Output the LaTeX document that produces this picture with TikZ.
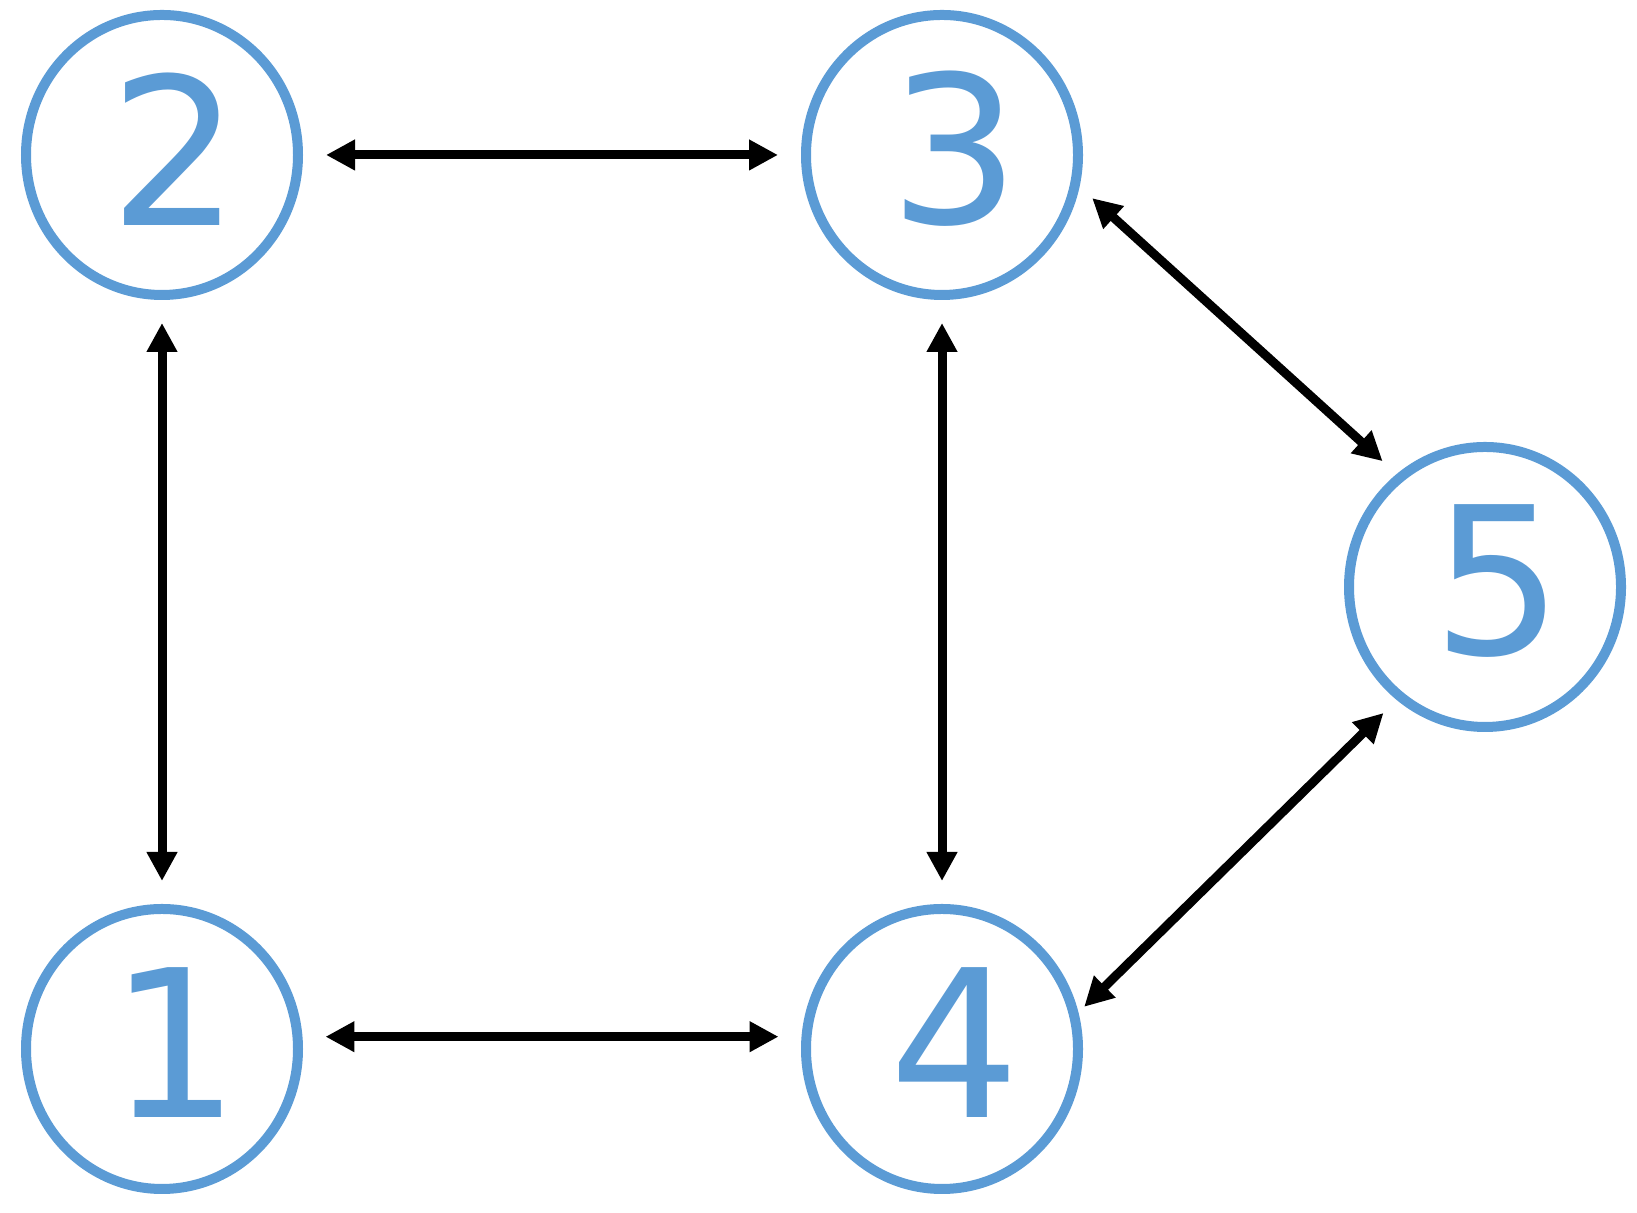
\documentclass[tikz,border=0pt]{standalone}
\usepackage{fontspec}
\setmainfont{DejaVu Sans}
\usepackage{xcolor}
\usetikzlibrary{shapes.geometric, arrows.meta, positioning, calc}

\definecolor{nodeblue}{HTML}{5B9BD5}

\begin{document}
\begin{tikzpicture}[>=Stealth,state/.style={draw=nodeblue,line width=1mm,ellipse,inner sep=0pt,minimum width=2.72cm,minimum height=2.8cm},num/.style={text=nodeblue,font=\fontsize{58.5}{60}\selectfont,xshift=1.3mm,yshift=0.6mm},link/.style={{Triangle[length=2.9mm,width=2.9mm]}-{Triangle[length=2.9mm,width=2.9mm]},line width=0.9mm,shorten <=2.3mm,shorten >=2.3mm}]
  \useasboundingbox (0,0) rectangle (16.37,12.13);
  \node[state,label={[num]center:2}] (n2) at (1.62,10.58) {};
  \node[state,right=4.98cm of n2,label={[num]center:3}] (n3) {};
  \node[state,below=6.04cm of n2,label={[num]center:1}] (n1) {};
  \node[state,below=6.04cm of n3,label={[num]center:4}] (n4) {};
  \node[state,right=4.02cm of {$(n3)!0.5!(n4)$},yshift=1.5mm,label={[num]center:5}] (n5) {};
  \draw[link] (n2) -- (n3);
  \draw[link] (n2) -- (n1);
  \draw[link] (n3) -- (n4);
  \draw[link] (n1.5) -- (n4.175);
  \draw[link,shorten <=1.7mm,shorten >=1.9mm] (n3.-13) -- (n5.128);
  \draw[link,shorten <=0.8mm,shorten >=1.85mm] (n4.15) -- (n5.232);
\end{tikzpicture}
\end{document}
